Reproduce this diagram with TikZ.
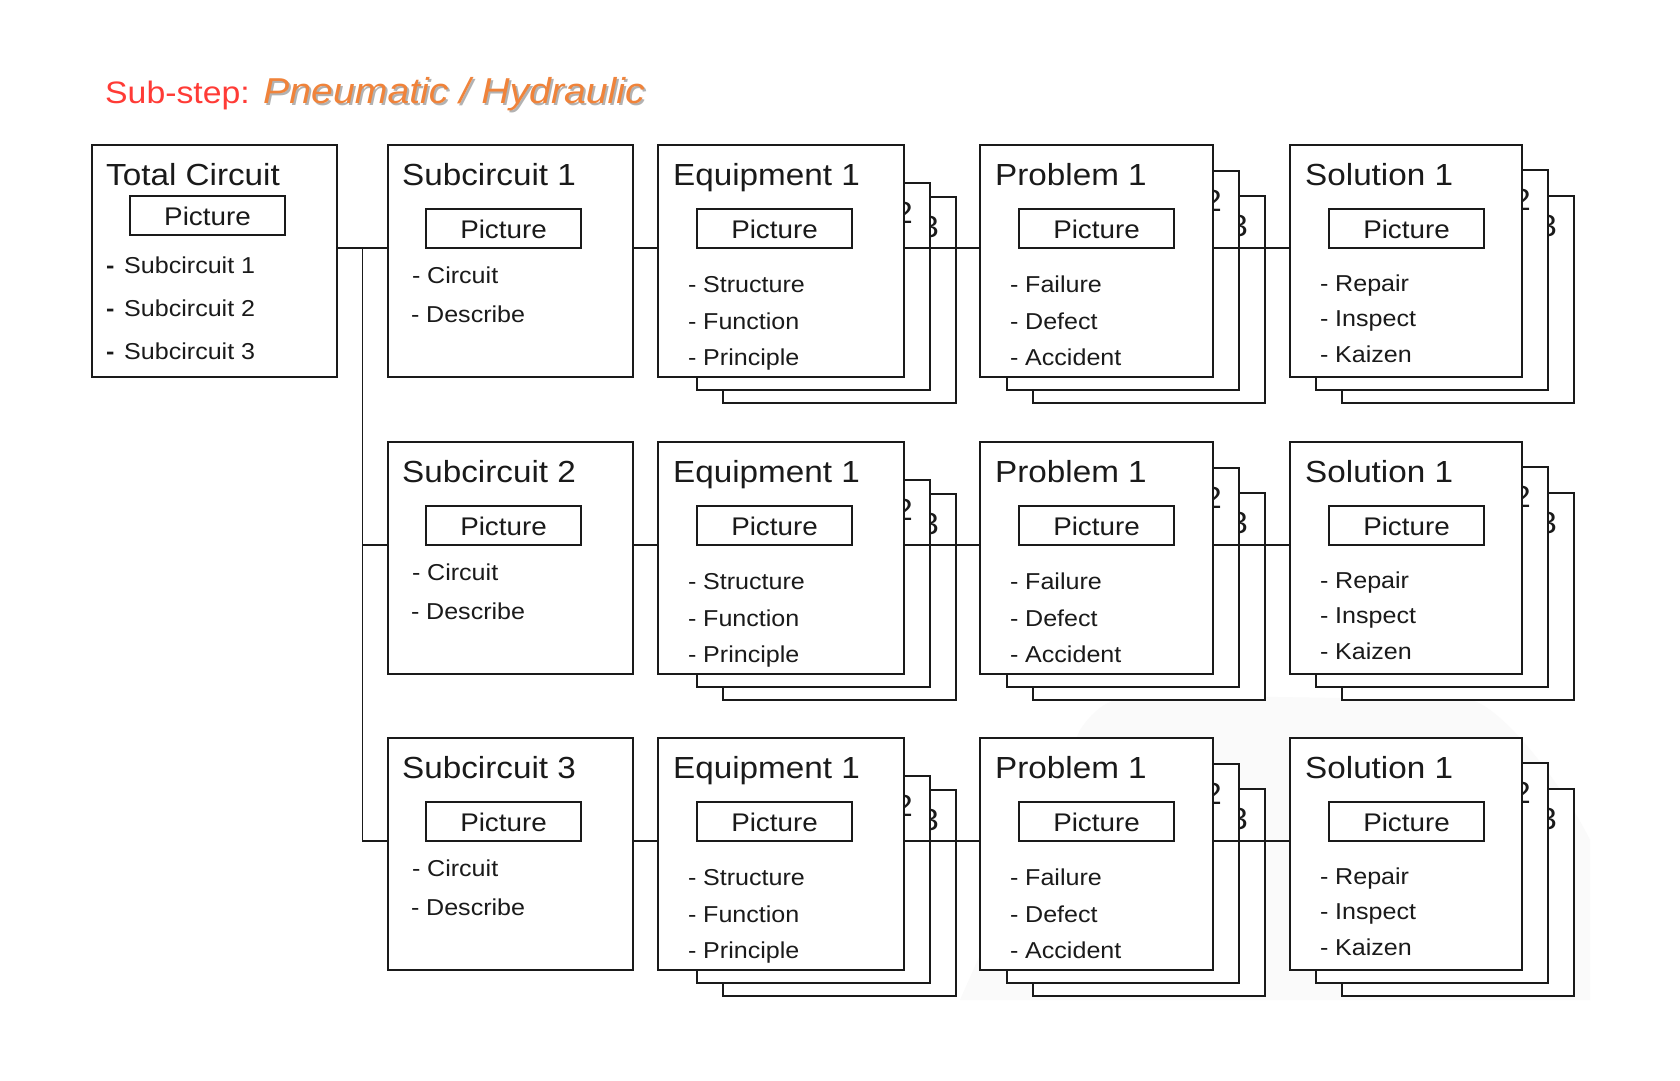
\documentclass[tikz,border=0pt]{standalone}
\usepackage{fontspec}
\setmainfont{Liberation Sans}[FakeStretch=1.09]
\definecolor{subred}{HTML}{FF3B36}
\definecolor{pnorange}{HTML}{F0833A}
\definecolor{ink}{HTML}{1A1A1A}
\newcommand\dsh{\makebox[15pt][l]{-}}
\newcommand\bdsh{\makebox[18pt][l]{\bfseries -}}
\tikzset{
  box/.style={draw=ink, line width=1.8pt, fill=white, rectangle, inner sep=0pt, outer sep=0pt, anchor=north west},
  conn/.style={draw=ink, line width=1.8pt},
  ttl/.style={anchor=base west, inner sep=0pt, text=ink, font=\fontsize{30.5}{36}\selectfont},
  pic/.style={anchor=base, inner sep=0pt, text=ink, font=\fontsize{25.5}{30}\selectfont},
  itm/.style={anchor=base west, inner sep=0pt, text=ink, font=\fontsize{23}{28}\selectfont},
  num/.style={anchor=base east, inner sep=0pt, text=ink, font=\fontsize{30.5}{36}\selectfont},
}
% #1 name, #2 left, #3 top, #4 main width, #5 copy2 left offset, #6 copy2 top offset, #7 copy3 top offset, #8 title word
\newcommand\stk[8]{%
  \pgfmathsetmacro\cw{#4+26-#5}%
  \pgfmathsetmacro\chb{245-#6}%
  \pgfmathsetmacro\chc{258-#7}%
  \node[box, minimum width=\cw pt, minimum height=\chc pt] (#1c3) at ({#2+#5+26},{#3+#7}) {};
  \node[num] (#1n3) at ({#2+#4+26+9},{#3+#7+40}) {3};
  \node[box, minimum width=\cw pt, minimum height=\chb pt] (#1c2) at ({#2+#5},{#3+#6}) {};
  \node[num] (#1n2) at ({#2+#4+9},{#3+#6+40}) {2};
  \node[box, minimum width=#4pt, minimum height=232pt] (#1) at (#2,#3) {};
  \node[ttl] (#1t) at ({#2+15},{#3+40}) {#8 1};
  \node[box, minimum width=155pt, minimum height=39pt] (#1p) at ({#2+39},{#3+64}) {};
  \node[pic] (#1pt) at ({#2+39+77.5},{#3+93}) {Picture};
}
\newcommand\subbox[2]{%
  \node[box, minimum width=245pt, minimum height=232pt] (s#1) at (388,#2) {};
  \node[ttl] (s#1t) at (402,{#2+40}) {Subcircuit #1};
  \node[box, minimum width=155pt, minimum height=39pt] (s#1p) at (426,{#2+64}) {};
  \node[pic] (s#1pt) at (503.5,{#2+93}) {Picture};
  \node[itm] (s#1i1) at (412,{#2+138}) {\dsh Circuit};
  \node[itm] (s#1i2) at (411,{#2+177}) {\dsh Describe};
}
\newcommand\fullrow[2]{%
  \subbox{#1}{#2}
  \stk{e#1}{658}{#2}{246}{39}{38}{52}{Equipment}
  \node[itm] (e#1i1) at (688,{#2+147}) {\dsh Structure};
  \node[itm] (e#1i2) at (688,{#2+184}) {\dsh Function};
  \node[itm] (e#1i3) at (688,{#2+220}) {\dsh Principle};
  \stk{p#1}{980}{#2}{233}{27}{26}{51}{Problem}
  \node[itm] (p#1i1) at (1010,{#2+147}) {\dsh Failure};
  \node[itm] (p#1i2) at (1010,{#2+184}) {\dsh Defect};
  \node[itm] (p#1i3) at (1010,{#2+220}) {\dsh Accident};
  \stk{o#1}{1290}{#2}{232}{26}{25}{51}{Solution}
  \node[itm] (o#1i1) at (1320,{#2+146}) {\dsh Repair};
  \node[itm] (o#1i2) at (1320,{#2+181}) {\dsh Inspect};
  \node[itm] (o#1i3) at (1320,{#2+217}) {\dsh Kaizen};
}
\begin{document}
\begin{tikzpicture}[x=1pt,y=-1pt]
\useasboundingbox (0,0) rectangle (1680,1080);
\fill[white] (0,0) rectangle (1680,1080);
% faint watermark
\fill[black!2] (960,1000) -- (1080,730) .. controls (1100,700) and (1120,695) .. (1150,695)
  -- (1470,700) .. controls (1500,705) and (1560,780) .. (1590,840) -- (1590,1000) -- cycle;
% heading
\node[anchor=base west, inner sep=0pt, text=subred, font=\fontsize{31}{36}\selectfont] (sub) at (105,103) {Sub-step:};
\node[anchor=base west, inner sep=0pt, text=black!30, font=\fontsize{36}{42}\selectfont\itshape] (pnhs) at (265,105) {Pneumatic / Hydraulic};
\node[anchor=base west, inner sep=0pt, text=pnorange, font=\fontsize{36}{42}\selectfont\itshape] (pnh) at (263,103) {Pneumatic / Hydraulic};
% total circuit
\node[box, minimum width=245pt, minimum height=232pt] (tc) at (92,145) {};
\node[ttl] (tct) at (106,185) {Total Circuit};
\node[box, minimum width=155pt, minimum height=39pt] (tcp) at (130,196) {};
\node[pic] (tcpt) at (207.5,225) {Picture};
\node[itm] (tci1) at (106,273) {\bdsh Subcircuit 1};
\node[itm] (tci2) at (106,316) {\bdsh Subcircuit 2};
\node[itm] (tci3) at (106,359) {\bdsh Subcircuit 3};
% rows
\fullrow{1}{145}
\fullrow{2}{442}
\fullrow{3}{738}
% connectors
\draw[conn] (tc.east |- s1p.south) -- coordinate[pos=0.5] (j1) (s1.west |- s1p.south);
\draw[conn] (j1) -- (j1 |- s3p.south) -- (s3.west |- s3p.south);
\draw[conn] (j1 |- s2p.south) -- (s2.west |- s2p.south);
\foreach \r in {1,2,3}{
  \draw[conn] (s\r.east |- s\r p.south) -- (e\r.west |- s\r p.south);
  \draw[conn] (e\r.east |- e\r p.south) -- (p\r.west |- e\r p.south);
  \draw[conn] (p\r.east |- p\r p.south) -- (o\r.west |- p\r p.south);
}
\end{tikzpicture}
\end{document}
